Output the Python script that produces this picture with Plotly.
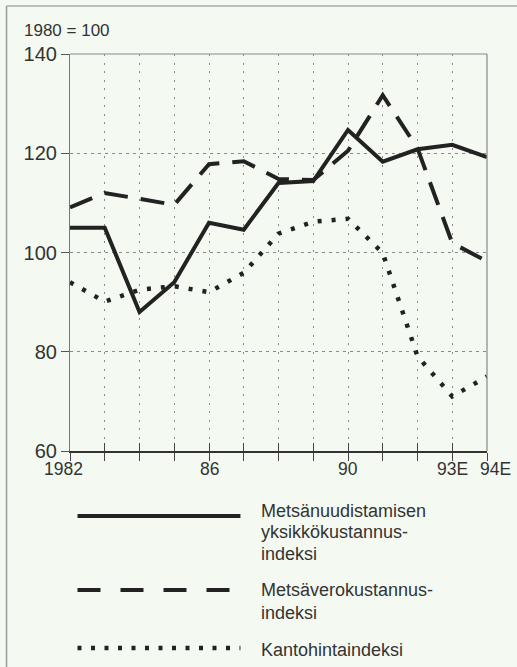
import plotly.graph_objects as go

years = list(range(1982, 1995))
tick_labels = ["1982", "", "", "", "86", "", "", "", "90", "", "", "93E", "94E"]
uudistus = [105, 105, 88, 94, 106, 104.6, 114, 114.4, 124.7, 118.3, 120.8, 121.7, 119.2]
verokust = [109.1, 112, 110.8, 109.6, 117.8, 118.4, 114.8, 114.6, 120.5, 131.7, 121, 101.9, 98.2]
kanto = [94, 90.1, 92.5, 93.2, 92, 95.9, 103.8, 106.2, 106.8, 99.9, 79.1, 71, 75]

names = ["Metsänuudistamisen|yksikkökustannus-|indeksi",
         "Metsäverokustannus-|indeksi",
         "Kantohintaindeksi"]

BG = "#f4faf2"
INK = "#222222"
TXT = "#333333"
FONT = "Liberation Sans, Arial, sans-serif"

W, H = 517, 667
L, R, T, B = 69.5, 30.3, 54, 216
pw, ph = W - L - R, H - T - B

def px(x):
    return (x - L) / pw

def py(y):
    return (H - B - y) / ph

styles = [dict(dash="solid", width=4),
          dict(dash="24px,13px", width=4),
          dict(dash="4px,10px", width=4.5)]

fig = go.Figure()
for vals, st in zip([uudistus, verokust, kanto], styles):
    fig.add_trace(go.Scatter(x=years, y=vals, mode="lines",
                             line=dict(color=INK, width=st["width"], dash=st["dash"]),
                             showlegend=False, hoverinfo="skip"))
# invisible trace for inner tick axis
fig.add_trace(go.Scatter(x=[years[0]], y=[60], xaxis="x2", mode="markers",
                         marker=dict(opacity=0), showlegend=False, hoverinfo="skip"))

fig.update_layout(
    width=W, height=H,
    margin=dict(l=L, r=R, t=T, b=B, pad=0),
    paper_bgcolor=BG, plot_bgcolor=BG,
    font=dict(family=FONT, color=TXT),
    xaxis=dict(range=[1982, 1994], tickvals=years, showticklabels=False,
               showgrid=True, gridcolor="#8a8a8a", griddash="2px,6.5px", gridwidth=1,
               showline=True, linecolor="#333", linewidth=1.5,
               ticks="outside", ticklen=8, tickcolor="#444", tickwidth=1,
               zeroline=False),
    xaxis2=dict(range=[1982, 1994], overlaying="x", anchor="y", side="bottom",
                tickvals=years, showticklabels=False, ticks="inside", ticklen=8,
                tickcolor="#444", tickwidth=1, showgrid=False, showline=False, zeroline=False),
    yaxis=dict(range=[60, 140], tickvals=[60, 80, 100, 120, 140],
               showgrid=True, gridcolor="#8a8a8a", griddash="3px,4px", gridwidth=1,
               showline=True, linecolor="#777", linewidth=1.2,
               ticks="outside", ticklen=8, tickcolor="#555", tickwidth=1,
               tickfont=dict(size=20, color=TXT), zeroline=False),
)

shapes = []
# frame top & right
shapes.append(dict(type="line", xref="paper", yref="paper", x0=0, x1=1, y0=1, y1=1,
                   line=dict(color="#888", width=1.2)))
shapes.append(dict(type="line", xref="paper", yref="paper", x0=1, x1=1, y0=0, y1=1,
                   line=dict(color="#888", width=1.2)))
# page border (left & top)
shapes.append(dict(type="line", xref="paper", yref="paper", x0=px(6), x1=px(6), y0=py(6), y1=py(H + 5),
                   line=dict(color="#999", width=1.5)))
shapes.append(dict(type="line", xref="paper", yref="paper", x0=px(6), x1=px(W + 5), y0=py(6), y1=py(6),
                   line=dict(color="#aaa", width=1.5)))

# legend samples
sample_y = [516, 590, 648]
sample_dash = ["solid", "23px,20px", "4px,9.5px"]
for sy, st, sd in zip(sample_y, styles, sample_dash):
    shapes.append(dict(type="line", xref="paper", yref="paper", x0=px(77), x1=px(240),
                       y0=py(sy), y1=py(sy),
                       line=dict(color=INK, width=st["width"], dash=sd)))
fig.update_layout(shapes=shapes)

annotations = [dict(text="1980 = 100", xref="paper", yref="paper", x=px(21), y=py(30),
                    xanchor="left", yanchor="middle", showarrow=False,
                    font=dict(size=17, color=TXT))]
# x tick labels (edge labels nudged outward as in the original)
label_shift = {"1982": -7, "94E": 8}
for yr, lab in zip(years, tick_labels):
    if lab:
        annotations.append(dict(text=lab, xref="x", yref="paper", x=yr, y=0,
                                xanchor="center", yanchor="top", yshift=-6,
                                xshift=label_shift.get(lab, 0), showarrow=False,
                                font=dict(size=17.5, color=TXT)))
line_centers = [[511, 532, 553.5], [589.5, 612.5], [649.5]]
for nm, centers in zip(names, line_centers):
    for part, cy in zip(nm.split("|"), centers):
        annotations.append(dict(text=part, xref="paper", yref="paper", x=px(259), y=py(cy),
                                xanchor="left", yanchor="middle", showarrow=False,
                                font=dict(size=18, color=TXT)))
fig.update_layout(annotations=annotations)

fig.write_html("out.html", config={"displayModeBar": False},
               post_script="document.body.style.margin='0';document.body.style.overflow='hidden';")
